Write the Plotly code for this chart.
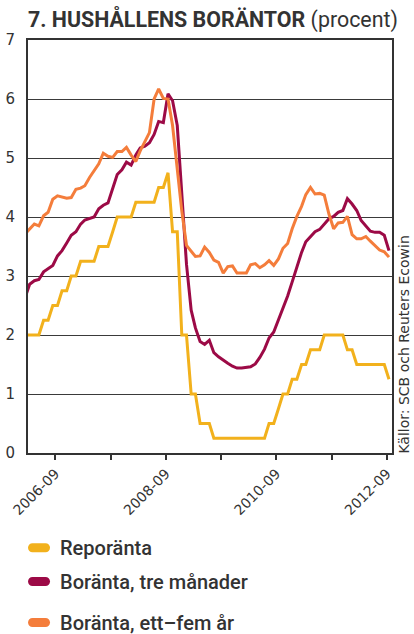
import pandas as pd
import plotly.graph_objects as go

# Monthly observations, Feb 2006 - Sep 2012 (plotted mid-month)
months = pd.date_range("2006-02-01", "2012-09-01", freq="MS") + pd.Timedelta(days=14)

reporanta = [
    2.0, 2.0, 2.0, 2.0, 2.25, 2.25, 2.5, 2.5, 2.75, 2.75,
    3.0, 3.0, 3.25, 3.25, 3.25, 3.25, 3.5, 3.5, 3.5, 3.75,
    4.0, 4.0, 4.0, 4.0, 4.25, 4.25, 4.25, 4.25, 4.25, 4.5,
    4.5, 4.75, 3.75, 3.75, 2.0, 2.0, 1.0, 1.0, 0.5, 0.5,
    0.5, 0.25, 0.25, 0.25, 0.25, 0.25, 0.25, 0.25, 0.25, 0.25,
    0.25, 0.25, 0.25, 0.5, 0.5, 0.75, 1.0, 1.0, 1.25, 1.25,
    1.5, 1.5, 1.75, 1.75, 1.75, 2.0, 2.0, 2.0, 2.0, 2.0,
    1.75, 1.75, 1.5, 1.5, 1.5, 1.5, 1.5, 1.5, 1.5, 1.25,
]

tre_manader = [
    2.65, 2.86, 2.92, 2.94, 3.07, 3.13, 3.18, 3.34, 3.43, 3.56,
    3.69, 3.75, 3.88, 3.95, 3.98, 4.00, 4.14, 4.20, 4.24, 4.50,
    4.72, 4.80, 4.93, 4.88, 5.05, 5.17, 5.20, 5.26, 5.40, 5.62,
    5.60, 6.09, 5.97, 5.55, 4.40, 3.20, 2.42, 2.12, 1.89, 1.84,
    1.91, 1.70, 1.63, 1.57, 1.52, 1.47, 1.44, 1.44, 1.45, 1.46,
    1.51, 1.62, 1.76, 1.95, 2.05, 2.25, 2.46, 2.66, 2.90, 3.15,
    3.40, 3.58, 3.67, 3.75, 3.79, 3.88, 3.97, 4.01, 4.08, 4.11,
    4.31, 4.22, 4.11, 3.94, 3.84, 3.76, 3.74, 3.74, 3.69, 3.43,
]

ett_fem_ar = [
    3.72, 3.80, 3.88, 3.85, 4.02, 4.08, 4.30, 4.36, 4.34, 4.32,
    4.33, 4.47, 4.49, 4.53, 4.67, 4.78, 4.90, 5.08, 5.03, 5.01,
    5.11, 5.11, 5.18, 5.05, 4.94, 5.12, 5.27, 5.43, 6.00, 6.17,
    6.01, 6.00, 5.55, 4.80, 4.10, 3.52, 3.41, 3.33, 3.34, 3.49,
    3.40, 3.27, 3.23, 3.05, 3.16, 3.17, 3.05, 3.05, 3.05, 3.19,
    3.21, 3.14, 3.19, 3.26, 3.18, 3.29, 3.47, 3.55, 3.80, 4.01,
    4.18, 4.38, 4.50, 4.39, 4.40, 4.37, 4.05, 3.80, 3.90, 3.91,
    4.01, 3.70, 3.63, 3.63, 3.67, 3.59, 3.52, 3.44, 3.41, 3.32,
]

series_names = ["Reporänta", "Boränta, tre månader", "Boränta, ett–fem år"]
series_colors = ["#F2B11C", "#9C0A46", "#F47D3B"]

tick_dates = ["2006-09-01", "2007-09-01", "2008-09-01", "2009-09-01",
              "2010-09-01", "2011-09-01", "2012-09-01"]
tick_labels = ["2006-09", "", "2008-09", "", "2010-09", "", "2012-09"]

TEXT = "#333333"

fig = go.Figure()
for name, vals, col in zip(series_names, [reporanta, tre_manader, ett_fem_ar], series_colors):
    fig.add_trace(go.Scatter(x=months, y=vals, mode="lines", name=name,
                             line=dict(color=col, width=3), showlegend=False))

# plot area in pixels (for legend placement)
W, H = 414, 634
L, R, T, B = 28, 22.3, 40, 180.7
pw, ph = W - L - R, H - T - B


def px_to_paper(px, py):
    return (px - L) / pw, (H - B - py) / ph


def pill(cx, cy, w=22, h=9):
    r = h / 2
    x0, x1 = cx - w / 2 + r, cx + w / 2 - r
    k = 0.552 * r
    pts = [
        ("M", [(x0, cy - r)]),
        ("L", [(x1, cy - r)]),
        ("C", [(x1 + k, cy - r), (x1 + r, cy - k), (x1 + r, cy)]),
        ("C", [(x1 + r, cy + k), (x1 + k, cy + r), (x1, cy + r)]),
        ("L", [(x0, cy + r)]),
        ("C", [(x0 - k, cy + r), (x0 - r, cy + k), (x0 - r, cy)]),
        ("C", [(x0 - r, cy - k), (x0 - k, cy - r), (x0, cy - r)]),
    ]
    s = ""
    for cmd, coords in pts:
        s += cmd + " ".join("%.5f,%.5f" % px_to_paper(a, b) for a, b in coords) + " "
    return s + "Z"


legend_y = [548, 582, 623]
shapes, annotations = [], []
for name, col, ly in zip(series_names, series_colors, legend_y):
    shapes.append(dict(type="path", xref="paper", yref="paper", path=pill(39, ly),
                       fillcolor=col, line=dict(width=0)))
    xp, yp = px_to_paper(58, ly)
    annotations.append(dict(xref="paper", yref="paper", x=xp, y=yp, xanchor="left",
                            yanchor="middle", showarrow=False, text=name,
                            font=dict(family="Roboto", size=20, color=TEXT, weight=500)))

sx, sy = px_to_paper(403.5, 345)
annotations.append(dict(xref="paper", yref="paper", x=sx, y=sy, xanchor="center",
                        yanchor="middle", showarrow=False, textangle=-90,
                        text="Källor: SCB och Reuters Ecowin", borderpad=0,
                        font=dict(family="DejaVu Sans", size=14, color=TEXT)))

fig.update_layout(
    width=W, height=H,
    margin=dict(l=L, r=R, t=T, b=B, pad=0, autoexpand=False),
    paper_bgcolor="white", plot_bgcolor="white",
    title=dict(text="<b>7. HUSHÅLLENS BORÄNTOR</b> (procent)",
               x=L / W, xanchor="left", xref="container",
               y=1 - 20 / H, yanchor="middle", yref="container",
               font=dict(family="Roboto", size=21.4, color=TEXT)),
    xaxis=dict(type="date", range=["2006-03-04", "2012-10-05"], automargin=False,
               tickvals=tick_dates, ticktext=tick_labels, tickangle=-45,
               ticks="outside", ticklen=5, tickwidth=1.5, tickcolor=TEXT,
               tickfont=dict(family="DejaVu Sans", size=14, color=TEXT),
               showgrid=False, showline=True, linewidth=2, linecolor=TEXT,
               mirror=True, zeroline=False),
    yaxis=dict(range=[0, 7], dtick=1, tick0=0, ticks="", automargin=False,
               tickfont=dict(family="DejaVu Sans", size=15, color=TEXT),
               showgrid=True, gridcolor="#3a3a3a", gridwidth=1.2,
               showline=True, linewidth=2, linecolor=TEXT, mirror=True,
               zeroline=False, ticklabelstandoff=8),
    shapes=shapes, annotations=annotations,
)

fig.write_html("out.html")
